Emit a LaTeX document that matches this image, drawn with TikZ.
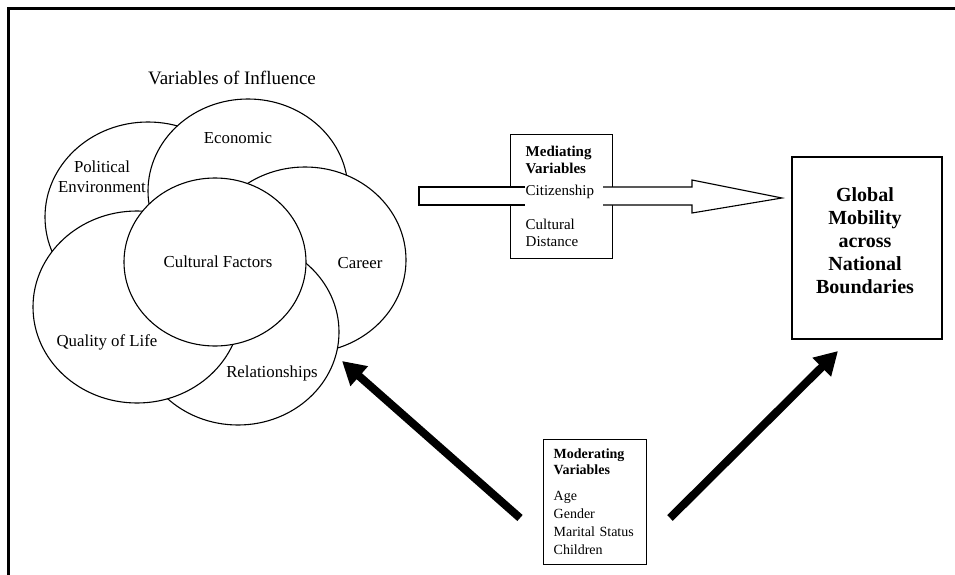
\documentclass[tikz,border=0pt]{standalone}
\usepackage{fontspec}
\setmainfont{Liberation Serif}
\usetikzlibrary{shapes,arrows.meta}

\begin{document}
\begin{tikzpicture}[x=1pt,y=-1pt]
\tikzstyle{circ}=[draw,ellipse,fill=white,line width=1.1pt,inner sep=0pt]
\tikzstyle{lab}=[font=\fontsize{16.8}{20}\selectfont,inner sep=0pt]
\tikzstyle{box}=[draw,line width=1.4pt,fill=white]
\tikzstyle{hollow}=[draw,fill=white,line width=1.1pt]
\tikzstyle{bigarrow}=[line width=8pt,-{Triangle[length=23pt,width=25pt]}]
\useasboundingbox (0,0) rectangle (955,575);
\draw[line width=2.6pt] (8.5,600) -- (8.5,8.5) -- (980,8.5);

\node[lab,font=\fontsize{19}{22}\selectfont] (title) at (232,78) {Variables of Influence};

\node[circ,minimum width=206pt,minimum height=190pt] (polit) at (148,217) {};
\node[circ,minimum width=200pt,minimum height=184pt] (econ) at (248,191) {};
\node[circ,minimum width=202pt,minimum height=186pt] (career) at (305,260) {};
\node[circ,minimum width=202pt,minimum height=186pt] (relat) at (238,332) {};
\node[circ,minimum width=208pt,minimum height=192pt] (qol) at (137,307) {};
\node[circ,minimum width=182pt,minimum height=168pt] (cult) at (215,262) {};

\node[lab,align=center] (polittext) at (102,177) {Political\\Environment};
\node[lab] (econtext) at (238,138) {Economic};
\node[lab] (culttext) at (218,262) {Cultural Factors};
\node[lab] (careertext) at (360,263) {Career};
\node[lab] (qoltext) at (107,342) {Quality of Life};
\node[lab] (relattext) at (272,373) {Relationships};

\node[box,anchor=north west,minimum width=102pt,minimum height=124pt,
      text width=72pt,inner xsep=15pt,align=left,
      font=\fontsize{15}{17}\selectfont] (medbox) at (510,134)
  {\textbf{Mediating}\\\textbf{Variables}\\[5pt]Citizenship\\[17pt]Cultural\\Distance};

\node[box,minimum width=150pt,minimum height=182pt] (globbox) at (867,248) {};
\node[font=\fontsize{20}{23}\selectfont\bfseries,align=center,inner sep=0pt] (globtext) at (865,241)
  {Global\\Mobility\\across\\National\\Boundaries};

\node[box,anchor=north west,minimum width=103pt,minimum height=125pt,
      text width=83pt,inner xsep=10pt,align=left,
      font=\fontsize{14}{18}\selectfont] (modbox) at (543,439)
  {\textbf{Moderating}\\[-2pt]\textbf{Variables}\\[8pt]Age\\Gender\\Marital Status\\Children};

\coordinate (hollowL) at (419,196);
\coordinate (hollowR) at (603,196);
\coordinate (hollowtip) at (782,198);
\filldraw[hollow] (525,187) -- (419,187) -- (419,205) -- (525,205);
\filldraw[hollow] (603,187) -- (692,187) -- (692,180) -- (hollowtip) -- (692,213) -- (692,205) -- (603,205);

\coordinate (modtailL) at (520,518);
\coordinate (modtailR) at (670,518);
\coordinate (relattip) at (342,361);
\coordinate (globtip) at (838,351);
\draw[bigarrow] (modtailL) -- (relattip);
\draw[bigarrow] (modtailR) -- (globtip);

\end{tikzpicture}
\end{document}
